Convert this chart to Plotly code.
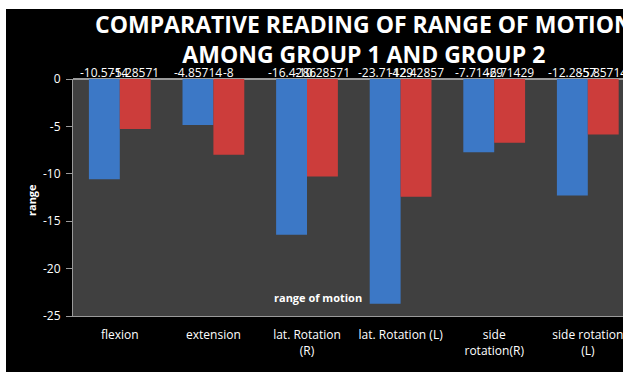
import plotly.graph_objects as go

# Range-of-motion change per movement, two study groups
categories = ["flexion", "extension", "lat. Rotation<br>(R)", "lat. Rotation (L)",
              "side<br>rotation(R)", "side rotation<br>(L)"]
group1 = [-10.5714, -4.85714, -16.4286, -23.71429, -7.71429, -12.2857]
group2 = [-5.28571, -8, -10.28571, -12.42857, -6.71429, -5.857143]
group_names = ["Group 1", "Group 2"]
y_ticks = [0, -5, -10, -15, -20, -25]

W, H = 623, 385
L, R, T, B = 73, 0, 79, 69
pw, ph = W - L - R, H - T - B
cat_px = 93.6  # pixel width of one category slot


def px_x(p):
    return (p - L) / pw


def px_y(p):
    return (H - B - p) / ph


FONT = "Open Sans"
BLUE = "#3c78c6"
RED = "#cc3d3b"

fig = go.Figure()
fig.add_trace(go.Bar(x=categories, y=group1, name=group_names[0],
                     marker=dict(color=BLUE, line=dict(width=0))))
fig.add_trace(go.Bar(x=categories, y=group2, name=group_names[1],
                     marker=dict(color=RED, line=dict(width=0))))

annotations = []
bar_half = 15.5
for cat, v1, v2 in zip(categories, group1, group2):
    for v, shift in ((v1, -bar_half), (v2, bar_half)):
        annotations.append(dict(
            x=cat, y=0, xref="x", yref="y", text=f"{v:g}" if abs(v) < 10 else f"{v}",
            showarrow=False, xshift=shift, yshift=-4, yanchor="bottom",
            font=dict(family=FONT, size=12, color="#ffffff")))

# title, axis title and category-axis caption
annotations.append(dict(
    x=px_x(364), y=px_y(39), xref="paper", yref="paper",
    text="<b>COMPARATIVE READING OF RANGE OF MOTION<br>AMONG GROUP 1 AND GROUP 2</b>",
    showarrow=False, xanchor="center", yanchor="middle",
    font=dict(family=FONT, size=23, color="#ffffff")))
annotations.append(dict(
    x=px_x(31), y=px_y(200), xref="paper", yref="paper", text="<b>range</b>",
    textangle=-90, showarrow=False, xanchor="center", yanchor="middle",
    font=dict(family=FONT, size=11, color="#ffffff")))
annotations.append(dict(
    x=px_x(318), y=px_y(297), xref="paper", yref="paper", text="<b>range of motion</b>",
    showarrow=False, xanchor="center", yanchor="middle",
    font=dict(family=FONT, size=11, color="#ffffff")))

# white page margins around the black chart area
shapes = [
    dict(type="rect", xref="paper", yref="paper", x0=px_x(-20), x1=px_x(W + 20),
         y0=px_y(9), y1=px_y(-20), fillcolor="#ffffff", line=dict(width=0), layer="above"),
    dict(type="rect", xref="paper", yref="paper", x0=px_x(-20), x1=px_x(6),
         y0=px_y(H + 20), y1=px_y(-20), fillcolor="#ffffff", line=dict(width=0), layer="above"),
    dict(type="rect", xref="paper", yref="paper", x0=px_x(-20), x1=px_x(W + 20),
         y0=px_y(H + 20), y1=px_y(372), fillcolor="#ffffff", line=dict(width=0), layer="above"),
]

fig.update_layout(
    width=W, height=H,
    margin=dict(l=L, r=R, t=T, b=B, autoexpand=False),
    paper_bgcolor="#000000", plot_bgcolor="#404040",
    barmode="group", bargap=0.34, bargroupgap=0,
    showlegend=False,
    annotations=annotations, shapes=shapes,
    font=dict(family=FONT, color="#ffffff"),
)
fig.update_xaxes(
    range=[-0.5, -0.5 + pw / cat_px], showline=True, linecolor="#9a9a9a", linewidth=1,
    ticks="", showgrid=False, zeroline=False,
    tickfont=dict(family=FONT, size=12, color="#ffffff"), ticklabelstandoff=8,
)
fig.update_yaxes(
    range=[-25, 0], tickvals=y_ticks, ticktext=[str(t) for t in y_ticks],
    showline=True, linecolor="#9a9a9a", linewidth=1, ticks="outside", ticklen=6,
    tickcolor="#9a9a9a", showgrid=False, zeroline=True, zerolinecolor="#9a9a9a",
    tickfont=dict(family=FONT, size=12, color="#ffffff"), ticklabelstandoff=3,
)

fig.write_html("out.html")
